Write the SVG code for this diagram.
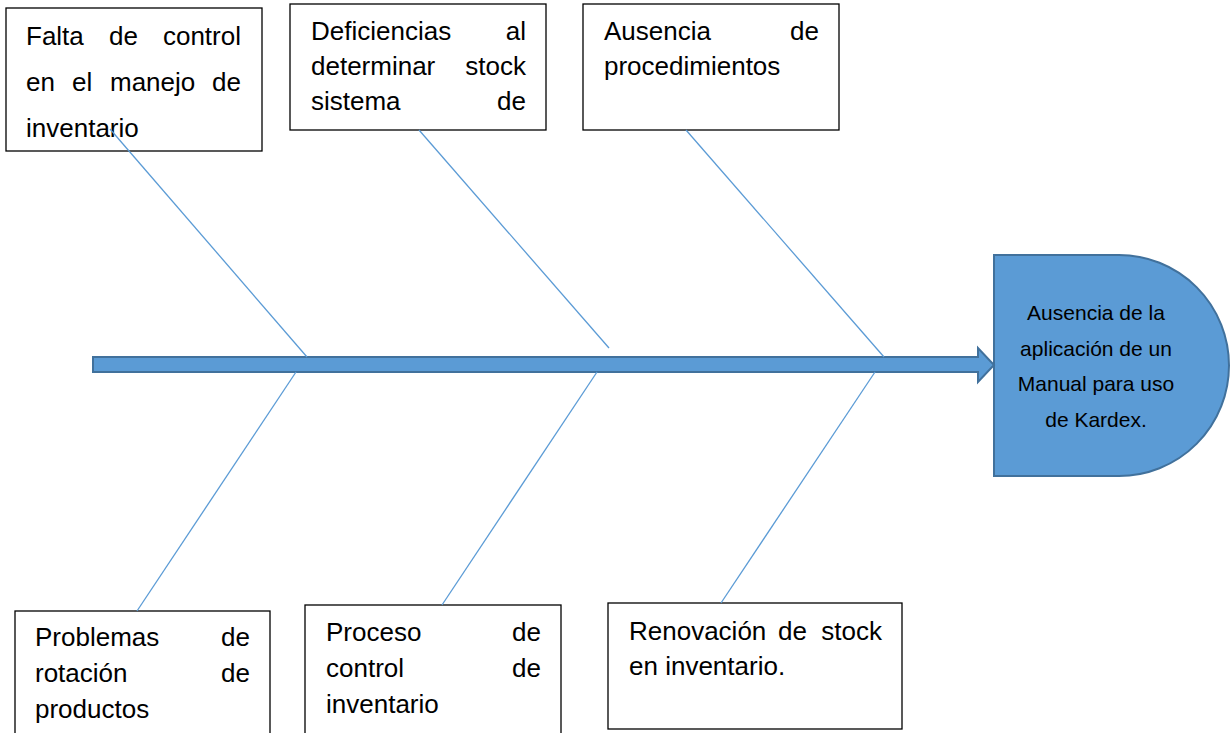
<svg xmlns="http://www.w3.org/2000/svg" width="1230" height="733" viewBox="0 0 1230 733">
<style>
.box{fill:#fff;stroke:#000;stroke-width:1.3}
.t{font-family:"Liberation Sans",Arial,sans-serif;font-size:26px;fill:#000}
.e{text-anchor:end}
.bone{stroke:#5B9BD5;stroke-width:1.3;fill:none}
.spine{fill:#5B9BD5;stroke:#41719C;stroke-width:2}
.ht{font-family:"Liberation Sans",Arial,sans-serif;font-size:21px;fill:#000;text-anchor:middle}
</style>
<rect width="1230" height="733" fill="#fff"/>
<g id="n1">
<rect class="box" x="6" y="8" width="256" height="143"/>
<text class="t" y="45"><tspan x="26">Falta</tspan><tspan x="109">de</tspan><tspan x="241" text-anchor="end">control</tspan></text>
<text class="t" y="91"><tspan x="26">en</tspan><tspan x="72">el</tspan><tspan x="110">manejo</tspan><tspan x="241" text-anchor="end">de</tspan></text>
<text class="t" x="26" y="137">inventario</text>
</g>
<g id="n2">
<rect class="box" x="290" y="4" width="256" height="126"/>
<text class="t" x="311" y="40">Deficiencias</text><text class="t e" x="526" y="40">al</text>
<text class="t" x="311" y="75">determinar</text><text class="t e" x="526" y="75">stock</text>
<text class="t" x="311" y="110">sistema</text><text class="t e" x="526" y="110">de</text>
</g>
<g id="n3">
<rect class="box" x="583" y="4" width="256" height="126"/>
<text class="t" x="604" y="40">Ausencia</text><text class="t e" x="819" y="40">de</text>
<text class="t" x="604" y="75">procedimientos</text>
</g>
<g id="n4">
<rect class="box" x="15" y="611" width="255" height="130"/>
<text class="t" x="35" y="646">Problemas</text><text class="t e" x="250" y="646">de</text>
<text class="t" x="35" y="682">rotación</text><text class="t e" x="250" y="682">de</text>
<text class="t" x="35" y="718">productos</text>
</g>
<g id="n5">
<rect class="box" x="305" y="605" width="256" height="136"/>
<text class="t" x="326" y="641">Proceso</text><text class="t e" x="541" y="641">de</text>
<text class="t" x="326" y="677">control</text><text class="t e" x="541" y="677">de</text>
<text class="t" x="326" y="713">inventario</text>
</g>
<g id="n6">
<rect class="box" x="608" y="603" width="294" height="126"/>
<text class="t" y="640"><tspan x="629">Renovación</tspan><tspan x="778">de</tspan><tspan x="882" text-anchor="end">stock</tspan></text>
<text class="t" x="629" y="675">en inventario.</text>
</g>
<g id="head">
<path d="M994,255 H1119 A110,110.5 0 0 1 1119,476 H994 Z" fill="#5B9BD5" stroke="#41719C" stroke-width="2"/>
<text class="ht" x="1096" y="320">Ausencia de la</text>
<text class="ht" x="1096" y="356">aplicación de un</text>
<text class="ht" x="1096" y="391">Manual para uso</text>
<text class="ht" x="1096" y="427">de Kardex.</text>
</g>
<g id="connectors">
<polygon class="spine" points="93,357 978,357 978,348 994,365 978,382 978,372 93,372"/>
<line class="bone" x1="110" y1="129" x2="307" y2="357"/>
<line class="bone" x1="419" y1="130" x2="609" y2="348"/>
<line class="bone" x1="686" y1="130" x2="884" y2="357"/>
<line class="bone" x1="296" y1="372" x2="137" y2="611"/>
<line class="bone" x1="597" y1="372" x2="442" y2="605"/>
<line class="bone" x1="875" y1="372" x2="721" y2="603"/>
</g>
</svg>
